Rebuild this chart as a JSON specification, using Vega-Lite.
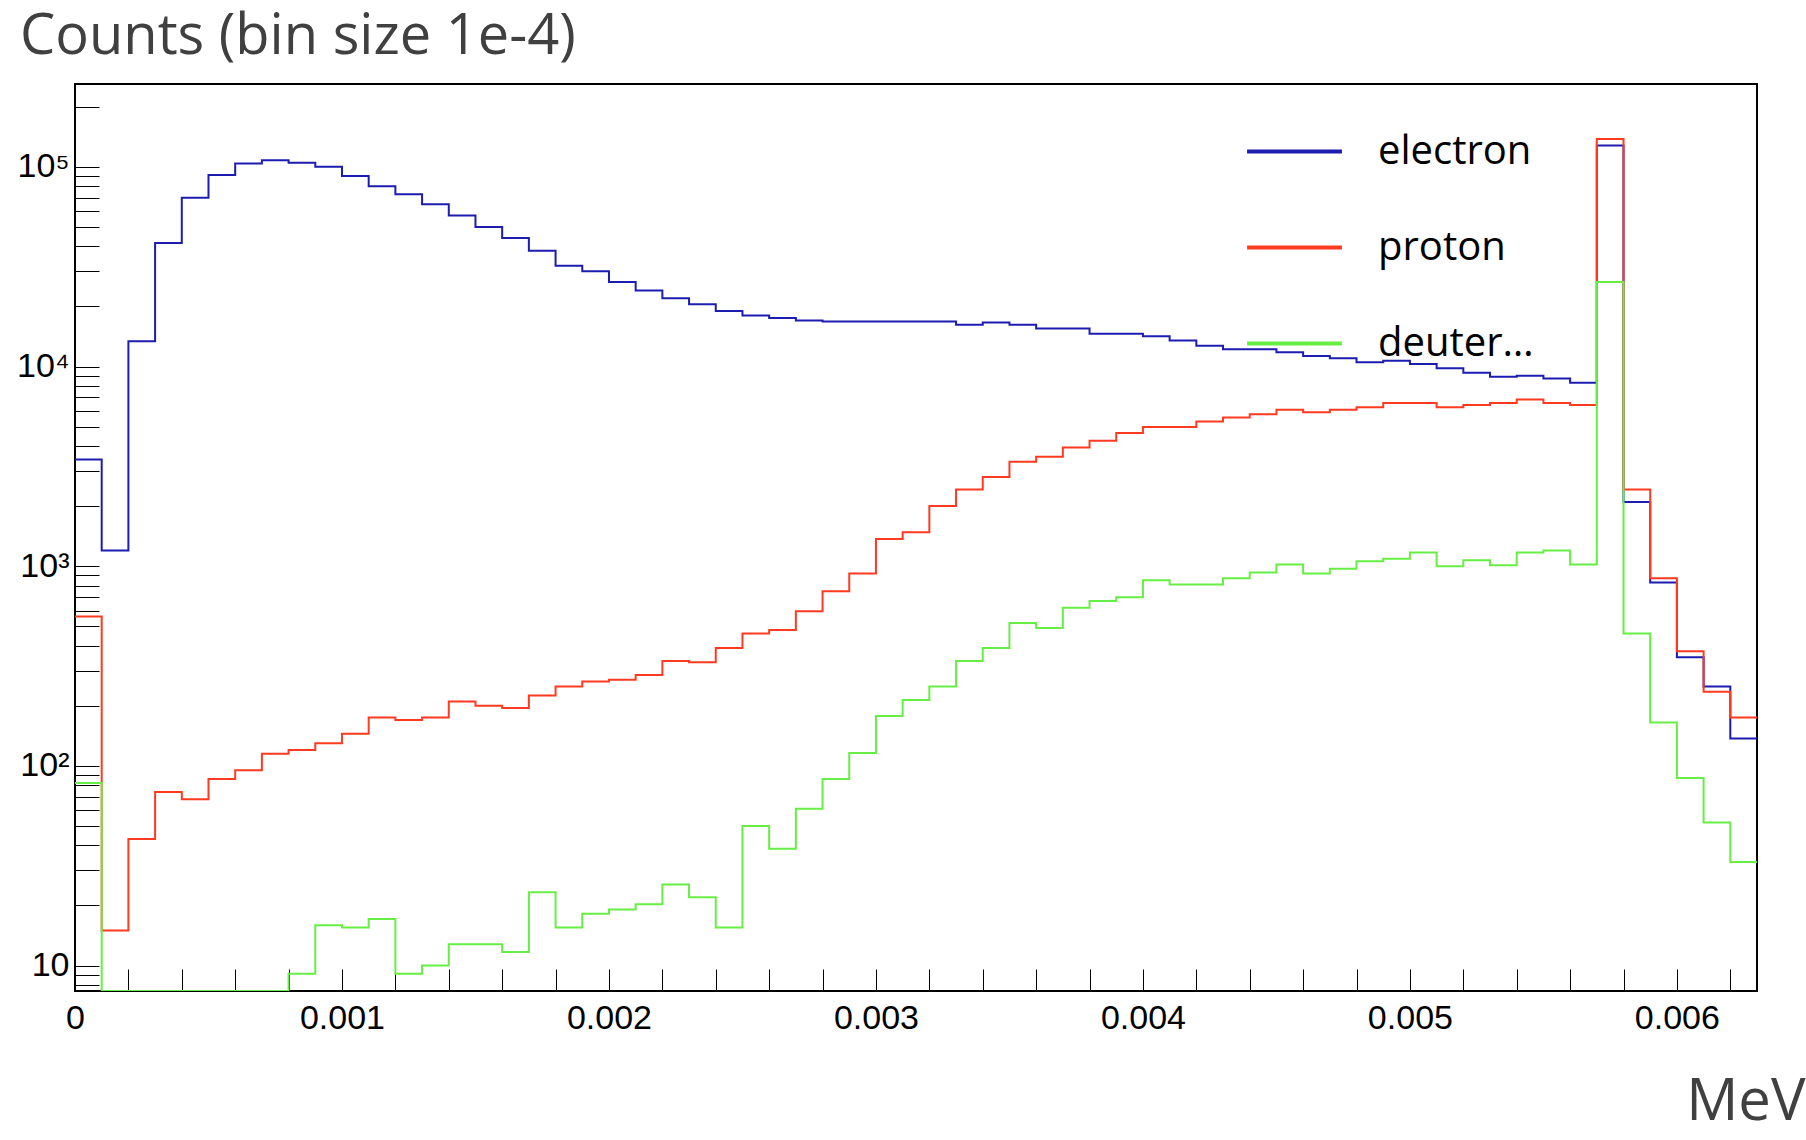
{
"$schema":"https://vega.github.io/schema/vega-lite/v6.json",
"width":1682,"height":907,
"autosize":{"type":"none"},
"padding":{"left":75,"top":84,"right":49,"bottom":149},
"background":"white",
"config":{"view":{"stroke":"black","strokeWidth":2},"font":"Liberation Sans"},
"title":{"text":"Counts (bin size 1e-4)","anchor":"start","frame":"group","dx":-55,"offset":18,"fontSize":56,"font":"Open Sans","fontWeight":"normal","color":"#404040"},
"data":{"values":[
{"x":0,"c":3420,"s":"electron"},{"x":0.0001,"c":1200,"s":"electron"},{"x":0.0002,"c":13400,"s":"electron"},{"x":0.0003,"c":41600,"s":"electron"},{"x":0.0004,"c":70000,"s":"electron"},{"x":0.0005,"c":91000,"s":"electron"},{"x":0.0006,"c":104000,"s":"electron"},{"x":0.0007,"c":108000,"s":"electron"},{"x":0.0008,"c":105000,"s":"electron"},{"x":0.0009,"c":100000,"s":"electron"},{"x":0.001,"c":90000,"s":"electron"},{"x":0.0011,"c":80000,"s":"electron"},{"x":0.0012,"c":73000,"s":"electron"},{"x":0.0013,"c":65000,"s":"electron"},{"x":0.0014,"c":57000,"s":"electron"},{"x":0.0015,"c":50000,"s":"electron"},{"x":0.0016,"c":44000,"s":"electron"},{"x":0.0017,"c":38000,"s":"electron"},{"x":0.0018,"c":32000,"s":"electron"},{"x":0.0019,"c":30000,"s":"electron"},{"x":0.002,"c":26500,"s":"electron"},{"x":0.0021,"c":24000,"s":"electron"},{"x":0.0022,"c":22000,"s":"electron"},{"x":0.0023,"c":20500,"s":"electron"},{"x":0.0024,"c":19000,"s":"electron"},{"x":0.0025,"c":18000,"s":"electron"},{"x":0.0026,"c":17500,"s":"electron"},{"x":0.0027,"c":17000,"s":"electron"},{"x":0.0028,"c":16800,"s":"electron"},{"x":0.0029,"c":16800,"s":"electron"},{"x":0.003,"c":16800,"s":"electron"},{"x":0.0031,"c":16800,"s":"electron"},{"x":0.0032,"c":16800,"s":"electron"},{"x":0.0033,"c":16200,"s":"electron"},{"x":0.0034,"c":16600,"s":"electron"},{"x":0.0035,"c":16200,"s":"electron"},{"x":0.0036,"c":15500,"s":"electron"},{"x":0.0037,"c":15500,"s":"electron"},{"x":0.0038,"c":14600,"s":"electron"},{"x":0.0039,"c":14600,"s":"electron"},{"x":0.004,"c":14200,"s":"electron"},{"x":0.0041,"c":13500,"s":"electron"},{"x":0.0042,"c":12700,"s":"electron"},{"x":0.0043,"c":12200,"s":"electron"},{"x":0.0044,"c":12200,"s":"electron"},{"x":0.0045,"c":11800,"s":"electron"},{"x":0.0046,"c":11300,"s":"electron"},{"x":0.0047,"c":11000,"s":"electron"},{"x":0.0048,"c":10500,"s":"electron"},{"x":0.0049,"c":10700,"s":"electron"},{"x":0.005,"c":10300,"s":"electron"},{"x":0.0051,"c":9800,"s":"electron"},{"x":0.0052,"c":9300,"s":"electron"},{"x":0.0053,"c":8900,"s":"electron"},{"x":0.0054,"c":9000,"s":"electron"},{"x":0.0055,"c":8700,"s":"electron"},{"x":0.0056,"c":8300,"s":"electron"},{"x":0.0057,"c":128000,"s":"electron"},{"x":0.0058,"c":2100,"s":"electron"},{"x":0.0059,"c":830,"s":"electron"},{"x":0.006,"c":350,"s":"electron"},{"x":0.0061,"c":250,"s":"electron"},{"x":0.0062,"c":137,"s":"electron"},{"x":0.0063,"c":137,"s":"electron"},
{"x":0,"c":560,"s":"proton"},{"x":0.0001,"c":15,"s":"proton"},{"x":0.0002,"c":43,"s":"proton"},{"x":0.0003,"c":74,"s":"proton"},{"x":0.0004,"c":68,"s":"proton"},{"x":0.0005,"c":86,"s":"proton"},{"x":0.0006,"c":95,"s":"proton"},{"x":0.0007,"c":115,"s":"proton"},{"x":0.0008,"c":120,"s":"proton"},{"x":0.0009,"c":130,"s":"proton"},{"x":0.001,"c":145,"s":"proton"},{"x":0.0011,"c":175,"s":"proton"},{"x":0.0012,"c":170,"s":"proton"},{"x":0.0013,"c":175,"s":"proton"},{"x":0.0014,"c":210,"s":"proton"},{"x":0.0015,"c":200,"s":"proton"},{"x":0.0016,"c":195,"s":"proton"},{"x":0.0017,"c":225,"s":"proton"},{"x":0.0018,"c":250,"s":"proton"},{"x":0.0019,"c":265,"s":"proton"},{"x":0.002,"c":270,"s":"proton"},{"x":0.0021,"c":285,"s":"proton"},{"x":0.0022,"c":335,"s":"proton"},{"x":0.0023,"c":330,"s":"proton"},{"x":0.0024,"c":390,"s":"proton"},{"x":0.0025,"c":460,"s":"proton"},{"x":0.0026,"c":480,"s":"proton"},{"x":0.0027,"c":595,"s":"proton"},{"x":0.0028,"c":750,"s":"proton"},{"x":0.0029,"c":920,"s":"proton"},{"x":0.003,"c":1370,"s":"proton"},{"x":0.0031,"c":1480,"s":"proton"},{"x":0.0032,"c":2000,"s":"proton"},{"x":0.0033,"c":2420,"s":"proton"},{"x":0.0034,"c":2800,"s":"proton"},{"x":0.0035,"c":3340,"s":"proton"},{"x":0.0036,"c":3530,"s":"proton"},{"x":0.0037,"c":3930,"s":"proton"},{"x":0.0038,"c":4250,"s":"proton"},{"x":0.0039,"c":4650,"s":"proton"},{"x":0.004,"c":4980,"s":"proton"},{"x":0.0041,"c":4980,"s":"proton"},{"x":0.0042,"c":5300,"s":"proton"},{"x":0.0043,"c":5550,"s":"proton"},{"x":0.0044,"c":5770,"s":"proton"},{"x":0.0045,"c":6080,"s":"proton"},{"x":0.0046,"c":5900,"s":"proton"},{"x":0.0047,"c":6080,"s":"proton"},{"x":0.0048,"c":6250,"s":"proton"},{"x":0.0049,"c":6570,"s":"proton"},{"x":0.005,"c":6570,"s":"proton"},{"x":0.0051,"c":6250,"s":"proton"},{"x":0.0052,"c":6420,"s":"proton"},{"x":0.0053,"c":6570,"s":"proton"},{"x":0.0054,"c":6830,"s":"proton"},{"x":0.0055,"c":6570,"s":"proton"},{"x":0.0056,"c":6420,"s":"proton"},{"x":0.0057,"c":138000,"s":"proton"},{"x":0.0058,"c":2420,"s":"proton"},{"x":0.0059,"c":870,"s":"proton"},{"x":0.006,"c":375,"s":"proton"},{"x":0.0061,"c":235,"s":"proton"},{"x":0.0062,"c":175,"s":"proton"},{"x":0.0063,"c":175,"s":"proton"},
{"x":0,"c":82,"s":"deuteron"},{"x":0.0001,"c":1,"s":"deuteron"},{"x":0.0002,"c":1,"s":"deuteron"},{"x":0.0003,"c":1,"s":"deuteron"},{"x":0.0004,"c":1,"s":"deuteron"},{"x":0.0005,"c":1,"s":"deuteron"},{"x":0.0006,"c":1,"s":"deuteron"},{"x":0.0007,"c":1,"s":"deuteron"},{"x":0.0008,"c":9.1,"s":"deuteron"},{"x":0.0009,"c":15.9,"s":"deuteron"},{"x":0.001,"c":15.5,"s":"deuteron"},{"x":0.0011,"c":17.1,"s":"deuteron"},{"x":0.0012,"c":9.1,"s":"deuteron"},{"x":0.0013,"c":10,"s":"deuteron"},{"x":0.0014,"c":12.8,"s":"deuteron"},{"x":0.0015,"c":12.8,"s":"deuteron"},{"x":0.0016,"c":11.7,"s":"deuteron"},{"x":0.0017,"c":23.3,"s":"deuteron"},{"x":0.0018,"c":15.5,"s":"deuteron"},{"x":0.0019,"c":18.2,"s":"deuteron"},{"x":0.002,"c":19.1,"s":"deuteron"},{"x":0.0021,"c":20.3,"s":"deuteron"},{"x":0.0022,"c":25.5,"s":"deuteron"},{"x":0.0023,"c":22,"s":"deuteron"},{"x":0.0024,"c":15.5,"s":"deuteron"},{"x":0.0025,"c":50,"s":"deuteron"},{"x":0.0026,"c":38.5,"s":"deuteron"},{"x":0.0027,"c":61,"s":"deuteron"},{"x":0.0028,"c":86,"s":"deuteron"},{"x":0.0029,"c":116,"s":"deuteron"},{"x":0.003,"c":178,"s":"deuteron"},{"x":0.0031,"c":214,"s":"deuteron"},{"x":0.0032,"c":250,"s":"deuteron"},{"x":0.0033,"c":335,"s":"deuteron"},{"x":0.0034,"c":390,"s":"deuteron"},{"x":0.0035,"c":520,"s":"deuteron"},{"x":0.0036,"c":490,"s":"deuteron"},{"x":0.0037,"c":620,"s":"deuteron"},{"x":0.0038,"c":670,"s":"deuteron"},{"x":0.0039,"c":700,"s":"deuteron"},{"x":0.004,"c":850,"s":"deuteron"},{"x":0.0041,"c":810,"s":"deuteron"},{"x":0.0042,"c":810,"s":"deuteron"},{"x":0.0043,"c":870,"s":"deuteron"},{"x":0.0044,"c":930,"s":"deuteron"},{"x":0.0045,"c":1020,"s":"deuteron"},{"x":0.0046,"c":920,"s":"deuteron"},{"x":0.0047,"c":970,"s":"deuteron"},{"x":0.0048,"c":1060,"s":"deuteron"},{"x":0.0049,"c":1090,"s":"deuteron"},{"x":0.005,"c":1170,"s":"deuteron"},{"x":0.0051,"c":1000,"s":"deuteron"},{"x":0.0052,"c":1070,"s":"deuteron"},{"x":0.0053,"c":1010,"s":"deuteron"},{"x":0.0054,"c":1170,"s":"deuteron"},{"x":0.0055,"c":1200,"s":"deuteron"},{"x":0.0056,"c":1020,"s":"deuteron"},{"x":0.0057,"c":26500,"s":"deuteron"},{"x":0.0058,"c":460,"s":"deuteron"},{"x":0.0059,"c":165,"s":"deuteron"},{"x":0.006,"c":87,"s":"deuteron"},{"x":0.0061,"c":52,"s":"deuteron"},{"x":0.0062,"c":33,"s":"deuteron"},{"x":0.0063,"c":33,"s":"deuteron"}
]},
"layer":[
{"mark":{"type":"line","interpolate":"step-after","strokeWidth":2,"clip":true},
"encoding":{
"x":{"field":"x","type":"quantitative","scale":{"domain":[0,0.0063],"nice":false,"zero":false},
 "axis":{"title":"MeV","titleFontSize":58,"titleFont":"Open Sans","titleFontWeight":"normal","titleColor":"#404040","titleAnchor":"end","titleAlign":"right","titleBaseline":"alphabetic","titleX":1730,"titleY":128,
 "values":[0,0.0002,0.0004,0.0006,0.0008,0.001,0.0012,0.0014,0.0016,0.0018,0.002,0.0022,0.0024,0.0026,0.0028,0.003,0.0032,0.0034,0.0036,0.0038,0.004,0.0042,0.0044,0.0046,0.0048,0.005,0.0052,0.0054,0.0056,0.0058,0.006,0.0062],
 "labelExpr":"abs(datum.value*1000-round(datum.value*1000))<0.01 ? (datum.value==0?'0':format(datum.value,'.3f')) : ''",
 "tickSize":-22,"tickColor":"black","domain":false,"grid":false,"labelFontSize":34,"labelColor":"black","labelPadding":32,"labelFlush":false}},
"y":{"field":"c","type":"quantitative","scale":{"type":"log","domain":[7.46,260000],"nice":false,"clamp":true},
 "axis":{"title":null,
 "values":[8,9,10,20,30,40,50,60,70,80,90,100,200,300,400,500,600,700,800,900,1000,2000,3000,4000,5000,6000,7000,8000,9000,10000,20000,30000,40000,50000,60000,70000,80000,90000,100000,200000],
 "labelExpr":"datum.value==10?'10':datum.value==100?'10²':datum.value==1000?'10³':datum.value==10000?'10⁴':datum.value==100000?'10⁵':''",
 "tickSize":-24,"tickColor":"black","domain":false,"grid":false,"labelFontSize":34,"labelColor":"black","labelPadding":30}},
"color":{"field":"s","type":"nominal","scale":{"domain":["electron","proton","deuteron"],"range":["#1c1cb0","#ff3a20","#66ee44"]},
 "legend":{"title":null,"orient":"none","legendX":1170,"legendY":18,"symbolType":"stroke","symbolSize":9000,"symbolStrokeWidth":4,"labelFontSize":40,"labelFont":"Open Sans","labelColor":"black","rowPadding":26,"labelOffset":34}}
}}
]
}
